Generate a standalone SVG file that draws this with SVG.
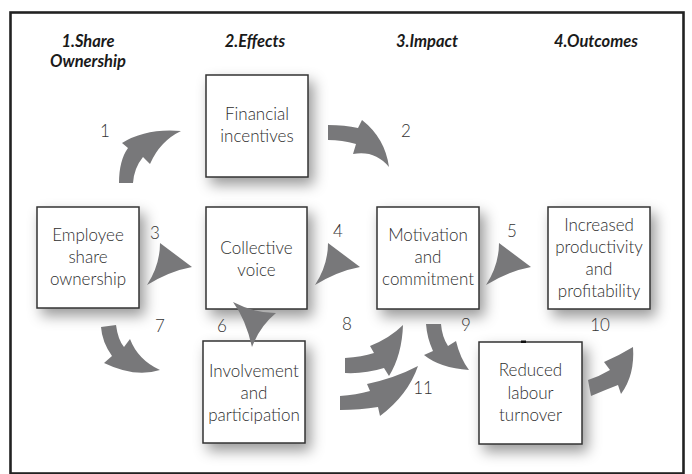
<svg xmlns="http://www.w3.org/2000/svg" width="692" height="474" viewBox="0 0 692 474">
<defs>
<filter id="sh" x="-30%" y="-30%" width="170%" height="170%">
<feDropShadow dx="5" dy="7" stdDeviation="7" flood-color="#000" flood-opacity="0.4"/>
</filter>
<path id="dart" d="M0,0 L32,24 Q10,28 -13,42 Q0,22 0,0 Z"/>
</defs>
<style>
.frame{fill:none;stroke:#222;stroke-width:2.6}
.box{fill:#fff;stroke:#333;stroke-width:1.5;filter:url(#sh)}
.hd{font-family:Lato,"Open Sans","Liberation Sans",sans-serif;font-weight:bold;font-style:italic;font-size:16.5px;fill:#1a1a1a;text-anchor:middle}
.t{font-family:Lato,"Open Sans","Liberation Sans",sans-serif;font-weight:300;font-size:17px;fill:#2e2e2e;text-anchor:middle}
.n{font-family:Lato,"Open Sans","Liberation Sans",sans-serif;font-weight:300;font-size:17px;fill:#333;text-anchor:middle}
.ar{fill:#78787a}
</style>
<rect width="692" height="474" fill="#fff"/>
<rect class="frame" x="10.5" y="12.5" width="673" height="461"/>
<g id="headers">
<text class="hd" x="88" y="47">1.Share</text>
<text class="hd" x="88" y="67">Ownership</text>
<text class="hd" x="255" y="47">2.Effects</text>
<text class="hd" x="427" y="47">3.Impact</text>
<text class="hd" x="596" y="47">4.Outcomes</text>
</g>
<g id="financial">
<rect class="box" x="206" y="75" width="102" height="102"/>
<text class="t" x="257" y="120">Financial</text>
<text class="t" x="257" y="142">incentives</text>
</g>
<g id="employee">
<rect class="box" x="37" y="207" width="102" height="101"/>
<text class="t" x="88" y="241">Employee</text>
<text class="t" x="88" y="263">share</text>
<text class="t" x="88" y="285">ownership</text>
</g>
<g id="collective">
<rect class="box" x="206" y="207" width="101" height="102"/>
<text class="t" x="256.5" y="254">Collective</text>
<text class="t" x="256.5" y="276">voice</text>
</g>
<g id="motivation">
<rect class="box" x="377" y="207" width="102" height="102"/>
<text class="t" x="428" y="241">Motivation</text>
<text class="t" x="428" y="263">and</text>
<text class="t" x="428" y="285">commitment</text>
</g>
<g id="increased">
<rect class="box" x="548" y="207" width="102" height="102"/>
<text class="t" x="599" y="231">Increased</text>
<text class="t" x="599" y="253">productivity</text>
<text class="t" x="599" y="275">and</text>
<text class="t" x="599" y="297">profitability</text>
</g>
<g id="involvement">
<rect class="box" x="203" y="341" width="102" height="102"/>
<text class="t" x="254" y="377">Involvement</text>
<text class="t" x="254" y="399">and</text>
<text class="t" x="254" y="421">participation</text>
</g>
<g id="reduced">
<rect class="box" x="479" y="342" width="103" height="102"/>
<rect x="521" y="340.5" width="5" height="2.5" fill="#111"/>
<text class="t" x="530.5" y="376">Reduced</text>
<text class="t" x="530.5" y="399">labour</text>
<text class="t" x="530.5" y="421">turnover</text>
</g>
<g id="connectors">
<path class="ar" d="M119,183 C119,168 122,156 128,148 L122,143 Q146,128 181,131 Q160,141 150,164 L143,157 Q134,168 133,183 Z"/>
<path class="ar" d="M328,125 Q345,125 358,128 L362,120 Q385,138 389,167 Q375,150 353,154 L356,144 Q342,140 328,140 Z"/>
<use href="#dart" class="ar" x="160" y="243"/>
<use href="#dart" class="ar" x="328" y="243"/>
<use href="#dart" class="ar" x="499" y="243"/>
<path class="ar" d="M233,302 Q254,313 276,313 Q260,326 252,347 Q246,320 233,302 Z"/>
<path class="ar" d="M101,327 L116,325 Q118,340 124,347 L130,339 Q138,360 160,370 Q135,378 104,363 L112,356 Q102,342 101,327 Z"/>
<path class="ar" d="M345,358 Q362,357 374,353 L370,346 Q390,338 403,325 Q402,355 389,376 L384,368 Q365,374 345,373 Z"/>
<path class="ar" d="M340,396 Q356,395 370,391 L367,384 Q395,378 418,366 Q408,395 380,416 L378,407 Q360,410 340,410 Z"/>
<path class="ar" d="M426,324 L441,324 Q442,337 448,346 L456,341 Q460,358 469,370 Q440,368 424,355 L433,351 Q427,338 426,324 Z"/>
<path class="ar" d="M588,380 Q600,376 610,370 L604,362 Q620,355 633,347 Q635,375 621,394 L618,385 Q605,390 591,396 Z"/>
</g>
<g id="labels">
<text class="n" x="105" y="137">1</text>
<text class="n" x="406" y="137">2</text>
<text class="n" x="155" y="239">3</text>
<text class="n" x="338" y="237">4</text>
<text class="n" x="512" y="237">5</text>
<text class="n" x="222" y="332">6</text>
<text class="n" x="160" y="332">7</text>
<text class="n" x="347" y="330">8</text>
<text class="n" x="466" y="331">9</text>
<text class="n" x="600" y="331">10</text>
<text class="n" x="423" y="394">11</text>
</g>
</svg>
